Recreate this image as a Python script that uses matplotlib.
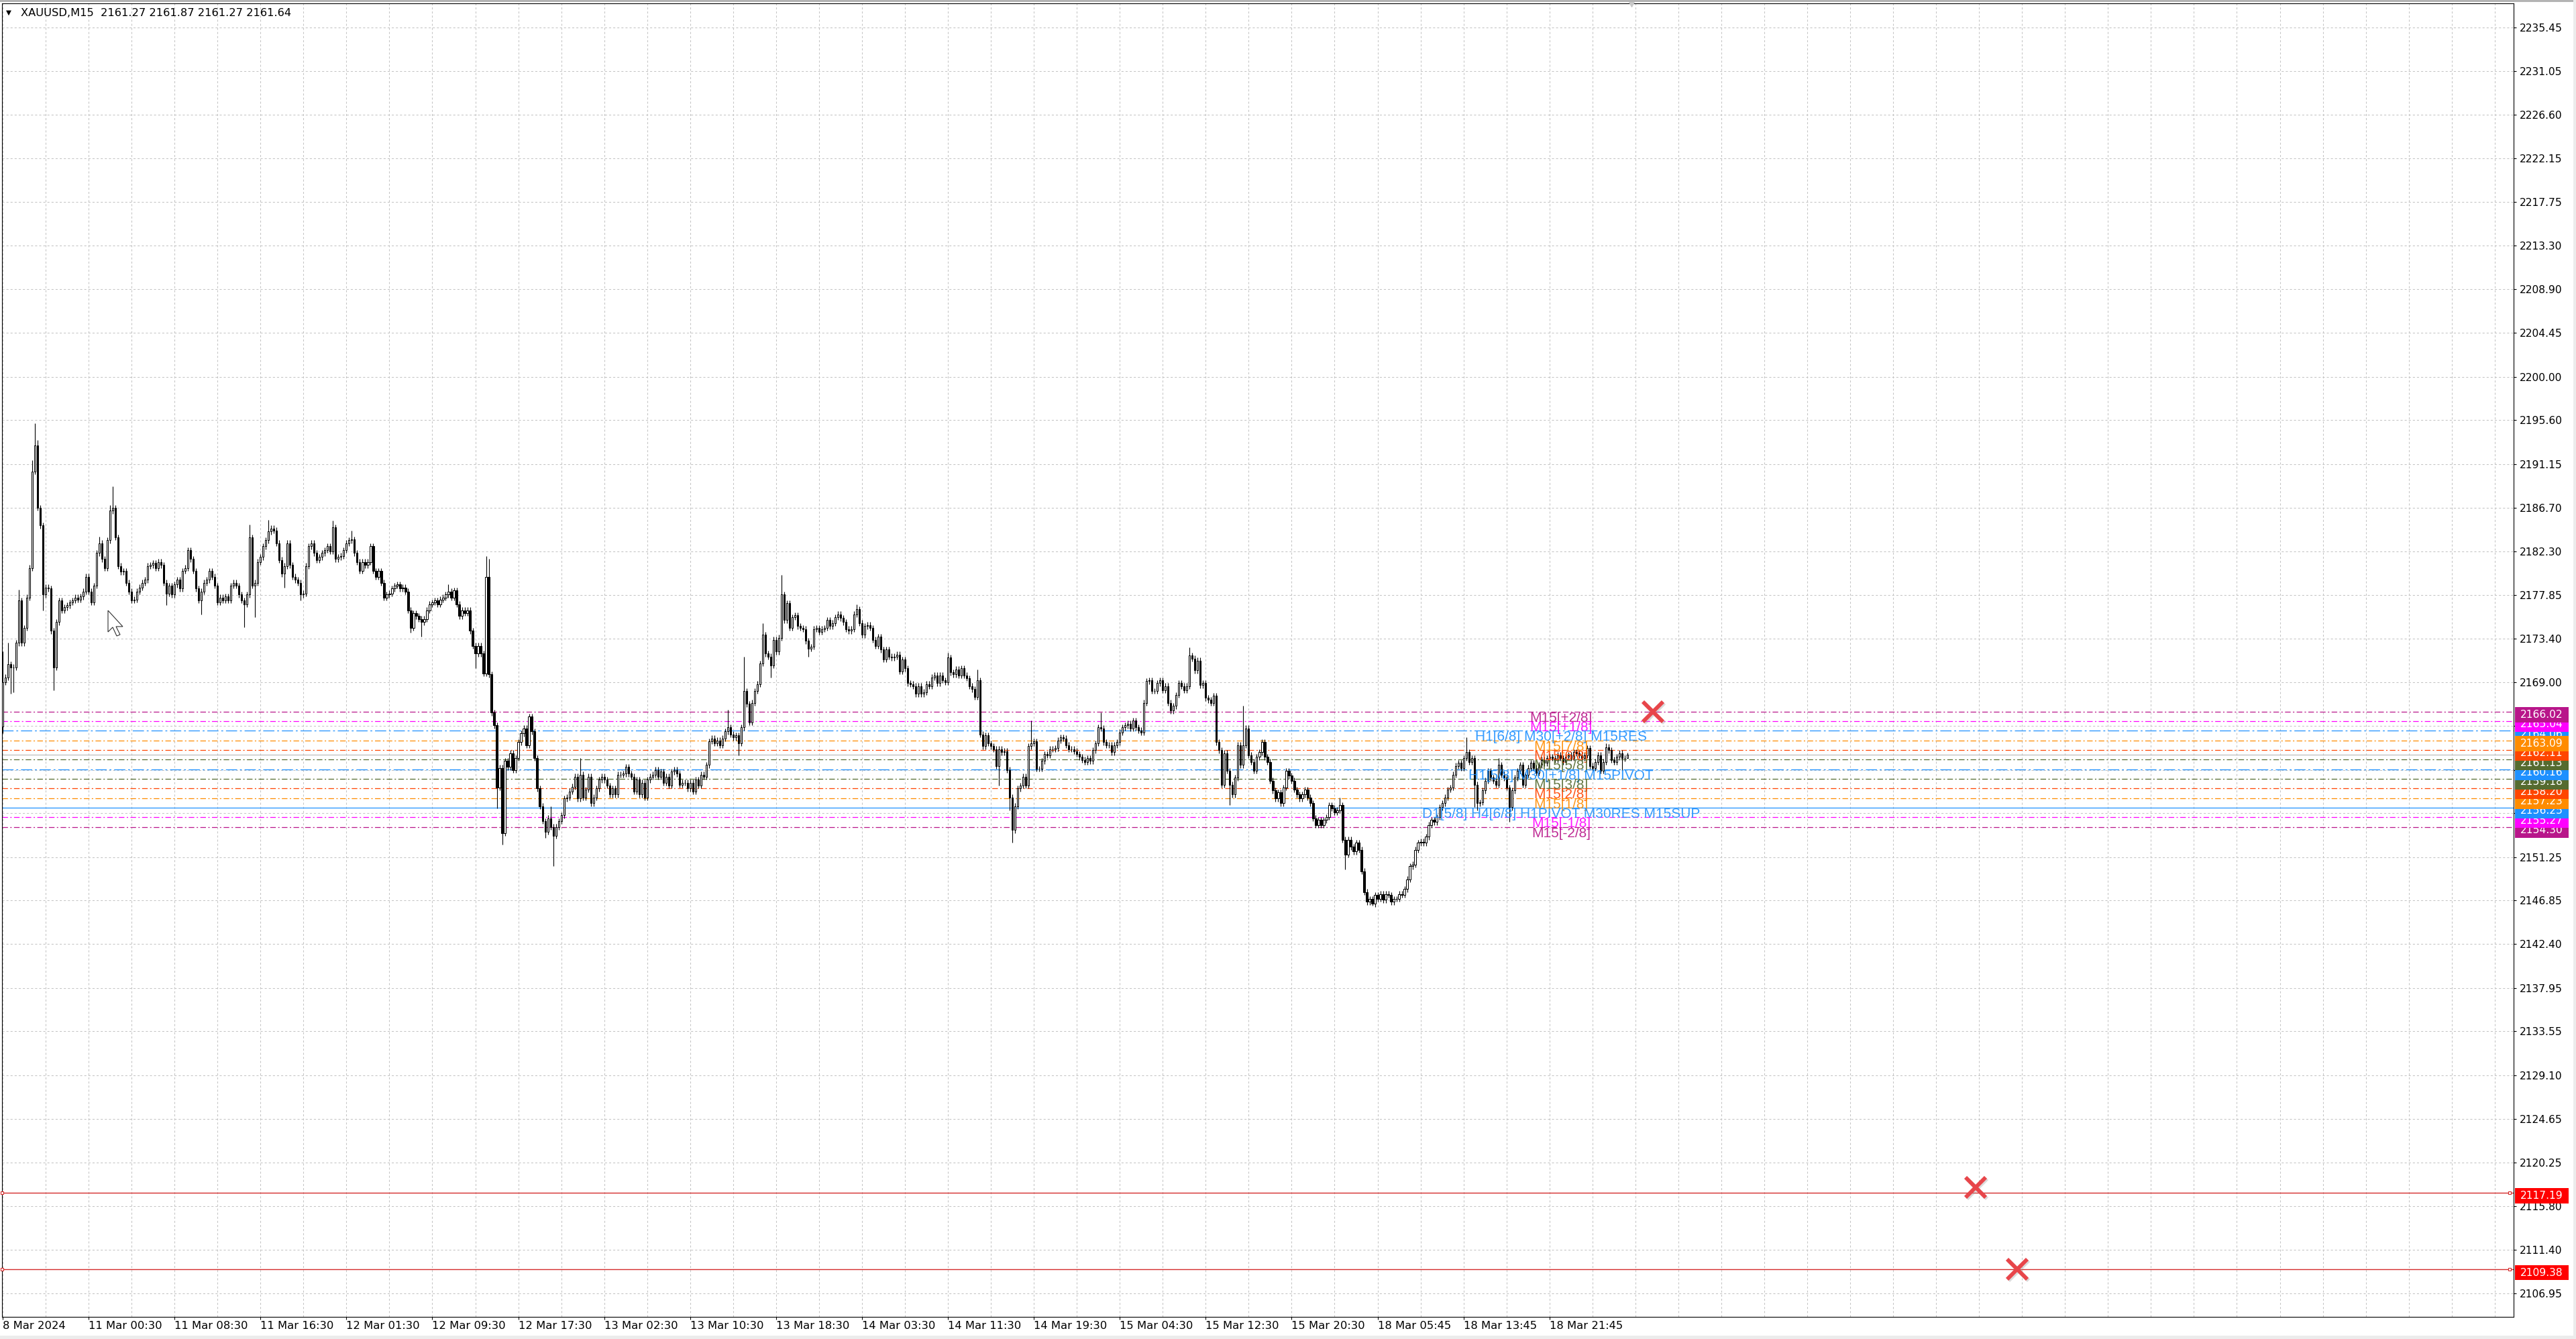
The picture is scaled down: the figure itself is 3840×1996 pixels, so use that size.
import numpy as np
import matplotlib
matplotlib.use("Agg")
import matplotlib.pyplot as plt
import matplotlib.transforms as mtrans
from matplotlib.patches import Rectangle, Polygon

plt.rcParams["lines.scale_dashes"] = False

# XAUUSD M15 closes, one per bar (8 Mar 2024 -> 19 Mar 2024)
first_open = 2164.5
closes = [
    2169.0, 2169.5, 2170.8, 2170.5, 2170.5, 2173.0, 2177.3, 2173.0, 2174.5, 2177.6, 2180.6, 2190.4, 2193.0, 2186.7, 2184.9, 2177.9,
    2178.6, 2178.5, 2174.2, 2170.5, 2175.1, 2177.3, 2176.3, 2176.6, 2176.8, 2177.1, 2177.3, 2177.6, 2177.4, 2177.7, 2178.2, 2179.7,
    2178.2, 2177.1, 2178.8, 2182.1, 2183.1, 2181.5, 2180.6, 2183.4, 2186.4, 2186.7, 2183.7, 2180.8, 2180.2, 2180.3, 2179.1, 2178.2,
    2177.3, 2177.4, 2178.2, 2178.6, 2179.1, 2179.4, 2180.8, 2180.9, 2181.1, 2180.6, 2181.2, 2180.9, 2179.1, 2178.0, 2178.8, 2177.9,
    2178.9, 2179.4, 2178.5, 2180.3, 2180.6, 2182.4, 2181.5, 2180.3, 2178.5, 2177.3, 2178.2, 2179.1, 2179.4, 2180.3, 2179.7, 2178.8,
    2177.1, 2177.6, 2177.3, 2177.7, 2177.3, 2178.8, 2179.1, 2178.8, 2177.9, 2177.3, 2176.9, 2177.9, 2183.7, 2178.8, 2179.1, 2181.2,
    2181.7, 2182.8, 2183.4, 2184.3, 2184.6, 2184.4, 2183.1, 2181.4, 2180.0, 2180.8, 2183.1, 2180.9, 2179.7, 2179.4, 2179.1, 2177.9,
    2178.0, 2180.8, 2182.8, 2183.1, 2182.1, 2181.4, 2181.7, 2182.1, 2182.4, 2182.8, 2182.3, 2184.7, 2181.5, 2181.7, 2181.8, 2182.4,
    2183.1, 2183.4, 2183.5, 2182.1, 2181.2, 2180.3, 2181.2, 2180.9, 2181.2, 2182.8, 2180.3, 2179.7, 2180.3, 2179.1, 2177.6, 2177.9,
    2178.0, 2178.5, 2178.8, 2178.9, 2178.5, 2178.6, 2178.2, 2176.3, 2174.5, 2176.0, 2175.7, 2175.4, 2175.1, 2175.4, 2176.3, 2176.9,
    2177.1, 2177.3, 2176.9, 2177.4, 2177.6, 2177.9, 2178.2, 2177.6, 2178.3, 2176.9, 2175.7, 2176.3, 2176.0, 2176.3, 2174.2, 2172.7,
    2171.9, 2172.7, 2171.9, 2169.9, 2179.7, 2169.8, 2165.9, 2164.6, 2158.3, 2160.3, 2153.7, 2161.0, 2160.4, 2161.8, 2160.1, 2161.3,
    2162.9, 2163.8, 2164.3, 2162.6, 2165.5, 2164.0, 2161.3, 2158.2, 2156.4, 2154.9, 2153.8, 2155.2, 2154.3, 2153.4, 2154.3, 2154.9,
    2155.5, 2157.2, 2157.3, 2157.9, 2158.4, 2159.4, 2157.2, 2159.6, 2157.3, 2158.1, 2159.4, 2156.7, 2157.3, 2158.2, 2159.1, 2159.4,
    2159.1, 2158.5, 2157.6, 2158.2, 2157.6, 2159.6, 2159.6, 2159.7, 2160.4, 2159.7, 2159.4, 2157.9, 2159.1, 2157.6, 2158.8, 2157.3,
    2159.1, 2159.4, 2159.6, 2160.1, 2159.4, 2159.9, 2158.8, 2159.4, 2158.5, 2159.9, 2160.1, 2159.7, 2158.6, 2158.8, 2158.8, 2158.2,
    2158.8, 2157.9, 2159.1, 2158.5, 2159.6, 2159.4, 2160.6, 2163.0, 2163.3, 2162.8, 2163.1, 2162.6, 2163.3, 2164.0, 2164.4, 2163.7,
    2163.4, 2163.6, 2162.8, 2164.4, 2168.1, 2166.8, 2164.9, 2166.9, 2168.1, 2168.8, 2170.9, 2173.8, 2171.9, 2171.6, 2170.7, 2173.3,
    2172.1, 2173.5, 2177.9, 2175.3, 2177.0, 2174.5, 2175.6, 2175.8, 2174.7, 2174.5, 2174.4, 2173.2, 2172.4, 2172.6, 2174.4, 2174.5,
    2174.1, 2174.4, 2174.5, 2175.3, 2174.7, 2175.0, 2175.6, 2175.9, 2175.5, 2175.1, 2174.4, 2174.2, 2174.4, 2175.9, 2176.4, 2175.0,
    2173.8, 2174.7, 2174.8, 2174.5, 2173.3, 2172.7, 2173.6, 2172.3, 2171.3, 2172.3, 2171.6, 2171.5, 2171.6, 2171.8, 2170.1, 2171.3,
    2170.4, 2168.9, 2168.8, 2168.6, 2167.8, 2168.6, 2167.8, 2168.0, 2168.8, 2168.6, 2169.5, 2169.7, 2168.9, 2169.7, 2169.2, 2169.0,
    2171.5, 2170.0, 2169.8, 2170.3, 2169.7, 2170.4, 2169.7, 2169.4, 2168.6, 2168.3, 2167.5, 2169.2, 2163.7, 2162.5, 2163.6, 2162.8,
    2162.5, 2162.2, 2160.5, 2162.2, 2161.9, 2162.0, 2160.1, 2157.3, 2154.0, 2156.4, 2158.2, 2158.5, 2159.4, 2158.5, 2162.5, 2162.8,
    2163.0, 2160.2, 2160.2, 2161.0, 2161.7, 2161.6, 2162.2, 2162.2, 2162.3, 2163.1, 2163.4, 2163.3, 2162.6, 2162.2, 2162.2, 2162.0,
    2161.7, 2161.4, 2161.1, 2160.9, 2161.3, 2161.0, 2162.1, 2162.8, 2164.4, 2164.3, 2162.9, 2162.6, 2162.6, 2161.9, 2162.6, 2162.9,
    2163.9, 2164.4, 2164.6, 2164.8, 2164.3, 2165.1, 2164.4, 2164.1, 2163.9, 2166.9, 2169.1, 2169.2, 2168.1, 2168.1, 2168.9, 2169.2,
    2168.2, 2168.6, 2166.9, 2166.1, 2166.6, 2167.7, 2168.9, 2168.6, 2168.2, 2168.6, 2171.7, 2171.4, 2170.2, 2171.2, 2168.7, 2168.9,
    2167.4, 2167.2, 2166.9, 2167.6, 2162.9, 2162.1, 2158.6, 2161.8, 2160.0, 2158.6, 2157.6, 2159.3, 2162.6, 2160.6, 2162.6, 2164.3,
    2161.6, 2160.9, 2160.0, 2161.4, 2161.9, 2162.9, 2161.4, 2160.9, 2159.0, 2158.0, 2157.2, 2157.8, 2156.7, 2158.3, 2160.0, 2159.5,
    2159.0, 2158.1, 2157.6, 2157.2, 2157.6, 2158.1, 2157.3, 2156.7, 2155.2, 2154.5, 2155.0, 2154.5, 2155.0, 2155.3, 2156.5, 2156.2,
    2155.8, 2156.0, 2156.5, 2153.0, 2151.5, 2153.0, 2152.3, 2151.8, 2152.7, 2152.0, 2149.8, 2147.7, 2146.7, 2147.0, 2146.5, 2147.4,
    2147.0, 2147.5, 2146.9, 2147.5, 2147.4, 2146.7, 2147.0, 2147.0, 2147.5, 2147.4, 2148.0, 2149.0, 2150.3, 2150.5, 2152.0, 2152.7,
    2152.8, 2152.7, 2153.3, 2154.5, 2155.0, 2154.8, 2155.3, 2156.3, 2156.7, 2157.3, 2158.1, 2158.3, 2159.6, 2160.5, 2160.8, 2160.3,
    2161.3, 2161.9, 2160.9, 2161.3, 2158.6, 2156.7, 2156.8, 2158.0, 2159.0, 2160.0, 2159.3, 2159.0, 2158.6, 2160.6, 2159.6, 2159.3,
    2158.3, 2156.3, 2158.0, 2159.3, 2160.0, 2160.6, 2158.6, 2159.6, 2160.3, 2160.8, 2160.3, 2159.8, 2160.6, 2161.1, 2160.8, 2161.3,
    2161.4, 2161.3, 2161.1, 2161.6, 2161.3, 2160.9, 2161.4, 2161.6, 2161.3, 2161.9, 2161.8, 2161.6, 2161.3, 2161.6, 2162.3, 2160.5,
    2160.3, 2160.9, 2161.6, 2160.0, 2160.9, 2162.4, 2162.1, 2161.1, 2160.9, 2161.4, 2161.8, 2161.3, 2161.27, 2161.64,
]

# longer wicks visible on the chart (bar index -> price)
wick_highs = {0: 2172.1, 2: 2173.0, 6: 2178.4, 11: 2191.5, 12: 2195.3, 13: 2193.6, 36: 2183.8,
              40: 2187.0, 41: 2188.9, 92: 2185.0, 99: 2185.5, 123: 2185.4, 130: 2184.4,
              166: 2178.9, 180: 2181.8, 181: 2181.5, 204: 2156.4, 215: 2161.3, 270: 2166.2,
              276: 2171.6, 283: 2175.0, 290: 2179.9, 318: 2176.9, 352: 2172.0, 363: 2170.3,
              383: 2165.1, 409: 2165.9, 442: 2172.5, 462: 2166.6, 498: 2157.3, 545: 2163.4,
              557: 2161.3, 597: 2162.8, 605: 2161.87}
wick_lows = {0: 2163.8, 3: 2167.8, 4: 2168.0, 15: 2176.3, 19: 2168.2, 61: 2176.8, 74: 2175.9,
             90: 2174.6, 94: 2175.6, 105: 2178.6, 111: 2177.3, 152: 2174.0, 156: 2173.6,
             176: 2170.4, 184: 2156.2, 186: 2152.5, 202: 2153.2, 205: 2150.3, 274: 2161.6,
             286: 2169.5, 300: 2171.6, 371: 2158.5, 375: 2156.0, 376: 2152.7, 457: 2156.5,
             500: 2150.0, 510: 2146.3, 548: 2156.3, 549: 2156.0, 561: 2154.8, 603: 2160.0,
             605: 2161.27}
min_wick = 0.3

header = "XAUUSD,M15  2161.27 2161.87 2161.27 2161.64"
bid = 2161.64

# Murrey math levels (price, colour, chart label)
levels = [2166.02, 2165.04, 2164.06, 2163.09, 2162.11, 2161.13, 2160.16,
          2159.18, 2158.20, 2157.23, 2156.25, 2155.27, 2154.30]
level_colors = ["#b8168a", "#ff00ff", "#1e90ff", "#ff8c00", "#ff4500", "#556b2f", "#1e90ff",
                "#556b2f", "#ff4500", "#ff8c00", "#1e90ff", "#ff00ff", "#b8168a"]
level_texts = ["M15[+2/8]", "M15[+1/8]", "H1[6/8] M30[+2/8] M15RES", "M15[7/8]", "M15[6/8]",
               "M15[5/8]", "H1[5/8] M30[+1/8] M15PIVOT", "M15[3/8]", "M15[2/8]", "M15[1/8]",
               "D1[5/8] H4[6/8] H1PIVOT M30RES M15SUP", "M15[-1/8]", "M15[-2/8]"]
label_bar = 580.3

red_levels = [2117.19, 2109.38]
cross_bars = [614.5, 734.6, 750.2]
cross_prices = [2166.0, 2117.7, 2109.4]

y_ticks = [2235.45, 2231.05, 2226.60, 2222.15, 2217.75, 2213.30, 2208.90, 2204.45, 2200.00,
           2195.60, 2191.15, 2186.70, 2182.30, 2177.85, 2173.40, 2169.00, 2164.55, 2160.10,
           2155.70, 2151.25, 2146.85, 2142.40, 2137.95, 2133.55, 2129.10, 2124.65, 2120.25,
           2115.80, 2111.40, 2106.95]
time_labels = ["8 Mar 2024", "11 Mar 00:30", "11 Mar 08:30", "11 Mar 16:30", "12 Mar 01:30",
               "12 Mar 09:30", "12 Mar 17:30", "13 Mar 02:30", "13 Mar 10:30", "13 Mar 18:30",
               "14 Mar 03:30", "14 Mar 11:30", "14 Mar 19:30", "15 Mar 04:30", "15 Mar 12:30",
               "15 Mar 20:30", "18 Mar 05:45", "18 Mar 13:45", "18 Mar 21:45"]
bars_per_label = 32

W, H = 3840, 1996
fig = plt.figure(figsize=(W / 100, H / 100), dpi=100)
fig.patch.set_facecolor("white")
ax = fig.add_axes([3 / W, (H - 1962.6) / H, 3744 / W, 1958 / H])
xmax = 935.05
ax.set_xlim(-0.25, xmax)
ax.set_ylim(2104.6, 2237.93)

grid_kw = dict(color="#c4c4c4", lw=0.75, ls=(0, (2.2, 2.2)), zorder=1)
for yv in y_ticks:
    ax.axhline(yv, **grid_kw)
for xv in range(0, int(xmax), bars_per_label // 2):
    ax.axvline(xv, **grid_kw)

# levels
for lv, col in zip(levels, level_colors):
    if lv == 2156.25:
        ax.axhline(lv, color=col, lw=0.9, zorder=2)
    elif col == "#1e90ff":
        ax.axhline(lv, color=col, lw=0.9, ls=(0, (12, 3, 2, 3)), zorder=2)
    else:
        ax.axhline(lv, color=col, lw=0.9, ls=(0, (6, 2.5, 1.5, 2.5)), zorder=2)
ax.axhline(bid, color="#bdbdbd", lw=0.9, zorder=2)
for rv in red_levels:
    ax.axhline(rv, color="#d42a2a", lw=1.0, zorder=2)
    ax.plot([0.0, 0.9985], [rv, rv], ls="none", marker="s", ms=3.5, mfc="white", mec="#d42a2a",
            mew=0.8, transform=mtrans.blended_transform_factory(ax.transAxes, ax.transData),
            clip_on=False, zorder=3)

# candles
c = np.array(closes)
o = np.r_[first_open, c[:-1]]
x = np.arange(len(c))
top = np.maximum(o, c)
bot = np.minimum(o, c)
hi = top + min_wick
lo = bot - min_wick
for i, v in wick_highs.items():
    hi[i] = v
for i, v in wick_lows.items():
    lo[i] = v
ax.vlines(x, lo, hi, color="black", lw=0.8, zorder=4)
up = c >= o
ax.bar(x[up], (top - bot)[up], bottom=bot[up], width=0.55, facecolor="white",
       edgecolor="black", lw=0.75, zorder=5)
ax.bar(x[~up], (top - bot)[~up], bottom=bot[~up], width=0.55, facecolor="black",
       edgecolor="black", lw=0.75, zorder=5)

# level labels on chart
for lv, col, txt in zip(levels, level_colors, level_texts):
    ax.text(label_bar, lv, txt, color=col, fontsize=15, family="Liberation Sans",
            ha="center", va="top", zorder=7, alpha=0.9)

# red crosses
ax.plot(np.array(cross_bars) + 0.6, np.array(cross_prices) - 0.12, ls="none", marker="x",
        ms=22, mew=4.2, color="#9a9a9a", alpha=0.35, zorder=8)
ax.plot(cross_bars, cross_prices, ls="none", marker="x", ms=22, mew=4.2, color="#e8454a", zorder=9)

# chart shift marker
ax.plot([606.5], [2237.93], marker="v", ms=7, color="#c8c8c8", clip_on=False, zorder=10)

# mouse pointer left on the chart
tip_x, tip_y = 161, H - 910
arrow = [(0, 0), (0, -32), (7, -25), (13, -38), (18, -36), (12, -24), (22, -24)]
fig.add_artist(Polygon([(tip_x + dx, tip_y + dy) for dx, dy in arrow], closed=True,
                       transform=mtrans.IdentityTransform(), facecolor="white",
                       edgecolor="#303030", lw=0.8, zorder=30))

# axes styling
for sp in ax.spines.values():
    sp.set_color("black")
    sp.set_linewidth(0.8)
ax.yaxis.tick_right()
ax.set_yticks(y_ticks)
ax.set_yticklabels([f"{v:.2f}" for v in y_ticks])
ax.tick_params(axis="y", direction="out", length=3, width=0.8, pad=3.3, labelsize=11.2)
ax.set_xticks([k * bars_per_label for k in range(len(time_labels))])
ax.set_xticklabels(time_labels)
for lab in ax.get_xticklabels():
    lab.set_ha("left")
ax.tick_params(axis="x", direction="out", length=3, width=0.8, pad=1.5, labelsize=11.8)

# price boxes on the right axis
bt = mtrans.blended_transform_factory(mtrans.IdentityTransform(), ax.transData)
order = [12, 11, 10, 9, 8, 7, 6, 5, 4, 2, 3, 1, 0]
for z, k in enumerate(order):
    lv = levels[k]
    ax.add_patch(Rectangle((3748.7, lv - 1.09), 80, 1.53, transform=bt, facecolor=level_colors[k],
                           edgecolor="none", clip_on=False, zorder=20 + 2 * z))
    ax.text(3757, lv - 0.33, f"{lv:.2f}", transform=bt, color="white", fontsize=11.2,
            ha="left", va="center", clip_on=False, zorder=21 + 2 * z)
for rv in red_levels:
    ax.add_patch(Rectangle((3748.7, rv - 1.09), 80, 1.53, transform=bt, facecolor="#ff0000",
                           edgecolor="none", clip_on=False, zorder=50))
    ax.text(3757, rv - 0.33, f"{rv:.2f}", transform=bt, color="white", fontsize=11.2,
            ha="left", va="center", clip_on=False, zorder=51)

# header
fig.text(9 / W, 1 - 19 / H, "\u25bc", fontsize=7.5, va="center", ha="left")
fig.text(31 / W, 1 - 19 / H, header, fontsize=11.7, va="center", ha="left")

# window edges
fig.add_artist(Rectangle((0, 1 - 3 / H), 1, 3 / H, transform=fig.transFigure, color="#b4b4b4", lw=0))
fig.add_artist(Rectangle((1 - 4 / W, 0), 4 / W, 1, transform=fig.transFigure, color="#ececec", lw=0))
fig.add_artist(Rectangle((0, 0), 1, 5 / H, transform=fig.transFigure, color="#ececec", lw=0))

fig.savefig("out.png", dpi=100, facecolor="white")
